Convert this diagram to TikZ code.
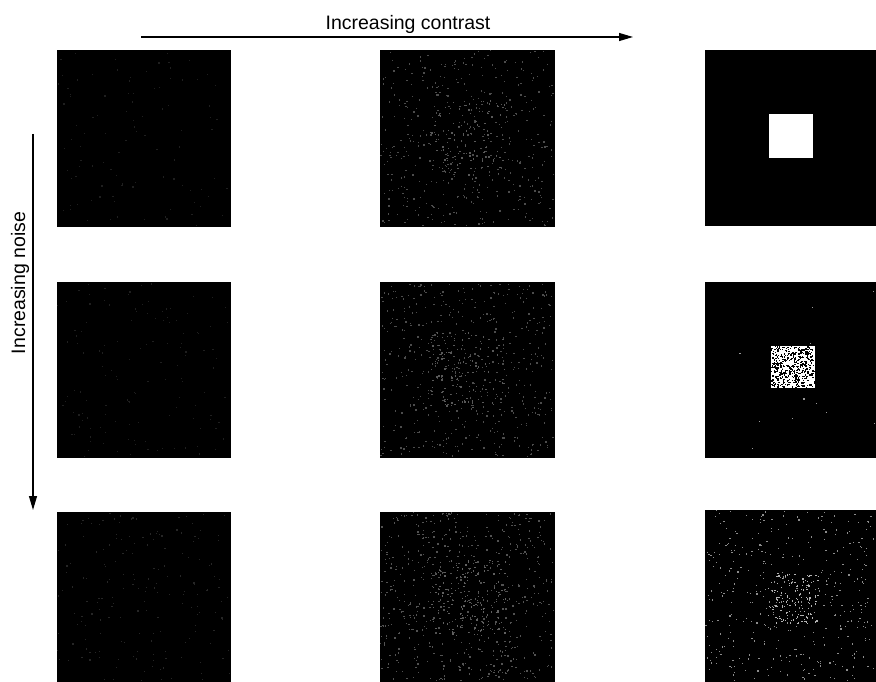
\documentclass[tikz,border=0pt]{standalone}
\usepackage{fontspec}
\setmainfont{Liberation Sans}
\usetikzlibrary{arrows.meta}
\tikzset{
  panel/.style={fill=black, draw=none, inner sep=0pt, anchor=north west},
  axis/.style={line width=1.1pt, -{Triangle[length=14pt,width=8pt]}},
  lbl/.style={font=\fontsize{19.5}{22}\selectfont, inner sep=0pt}
}
% noise: x0 y0 w h count colour size
\newcommand{\noisebox}[7]{%
  \foreach \ni in {1,...,#5}{%
    \pgfmathsetmacro\rx{#1+#3*rnd}%
    \pgfmathsetmacro\ry{#2+#4*rnd}%
    \fill[#6] (\rx,\ry) rectangle ++(#7,#7);
  }%
}
\begin{document}
\begin{tikzpicture}[x=1pt,y=-1pt]
\useasboundingbox (0,0) rectangle (876,682);
\fill[white] (0,0) rectangle (876,682);
\pgfmathsetseed{7}
% panels
\node[panel, minimum width=174pt, minimum height=177pt] (p11) at (57,50) {};
\node[panel, minimum width=175pt, minimum height=177pt] (p12) at (380,50) {};
\node[panel, minimum width=171pt, minimum height=176pt] (p13) at (705,50) {};
\node[panel, minimum width=174pt, minimum height=176pt] (p21) at (57,282) {};
\node[panel, minimum width=175pt, minimum height=176pt] (p22) at (380,282) {};
\node[panel, minimum width=171pt, minimum height=176pt] (p23) at (705,282) {};
\node[panel, minimum width=174pt, minimum height=170pt] (p31) at (57,512) {};
\node[panel, minimum width=175pt, minimum height=170pt] (p32) at (380,512) {};
\node[panel, minimum width=171pt, minimum height=172pt] (p33) at (705,510) {};
% noise, column 1
\noisebox{57}{50}{172}{175}{100}{black!88!white}{1.2}
\noisebox{57}{282}{172}{174}{130}{black!88!white}{1.2}
\noisebox{57}{512}{172}{168}{180}{black!85!white}{1.2}
% noise, column 2
\noisebox{380}{50}{173}{175}{450}{black!70!white}{1.3}
\noisebox{430}{100}{75}{75}{110}{black!65!white}{1.3}
\noisebox{380}{282}{173}{174}{500}{black!70!white}{1.3}
\noisebox{430}{332}{75}{75}{130}{black!65!white}{1.3}
\noisebox{380}{512}{173}{168}{600}{black!68!white}{1.3}
\noisebox{430}{560}{75}{75}{150}{black!62!white}{1.3}
% column 3
\node[fill=white, inner sep=0pt, minimum width=44pt, minimum height=44pt, anchor=north west] (sq1) at (769,114) {};
\node[fill=white, inner sep=0pt, minimum width=44pt, minimum height=42pt, anchor=north west] (sq2) at (771,346) {};
\noisebox{771}{346}{43}{41}{420}{black}{1.3}
\noisebox{705}{282}{170}{174}{12}{black!40!white}{1.2}
\noisebox{705}{510}{170}{170}{380}{black!45!white}{1.2}
\noisebox{768}{573}{50}{50}{150}{black!30!white}{1.2}
% arrows and labels
\coordinate (ch0) at (141,37);
\coordinate (ch1) at (633,37);
\draw[axis] (ch0) -- (ch1);
\node[lbl, anchor=base] (tc) at (408,30) {Increasing contrast};
\coordinate (cv0) at (33,134);
\coordinate (cv1) at (33,510);
\draw[axis] (cv0) -- (cv1);
\node[lbl, rotate=90, anchor=base] (tn) at (25,283) {Increasing noise};
\end{tikzpicture}
\end{document}
